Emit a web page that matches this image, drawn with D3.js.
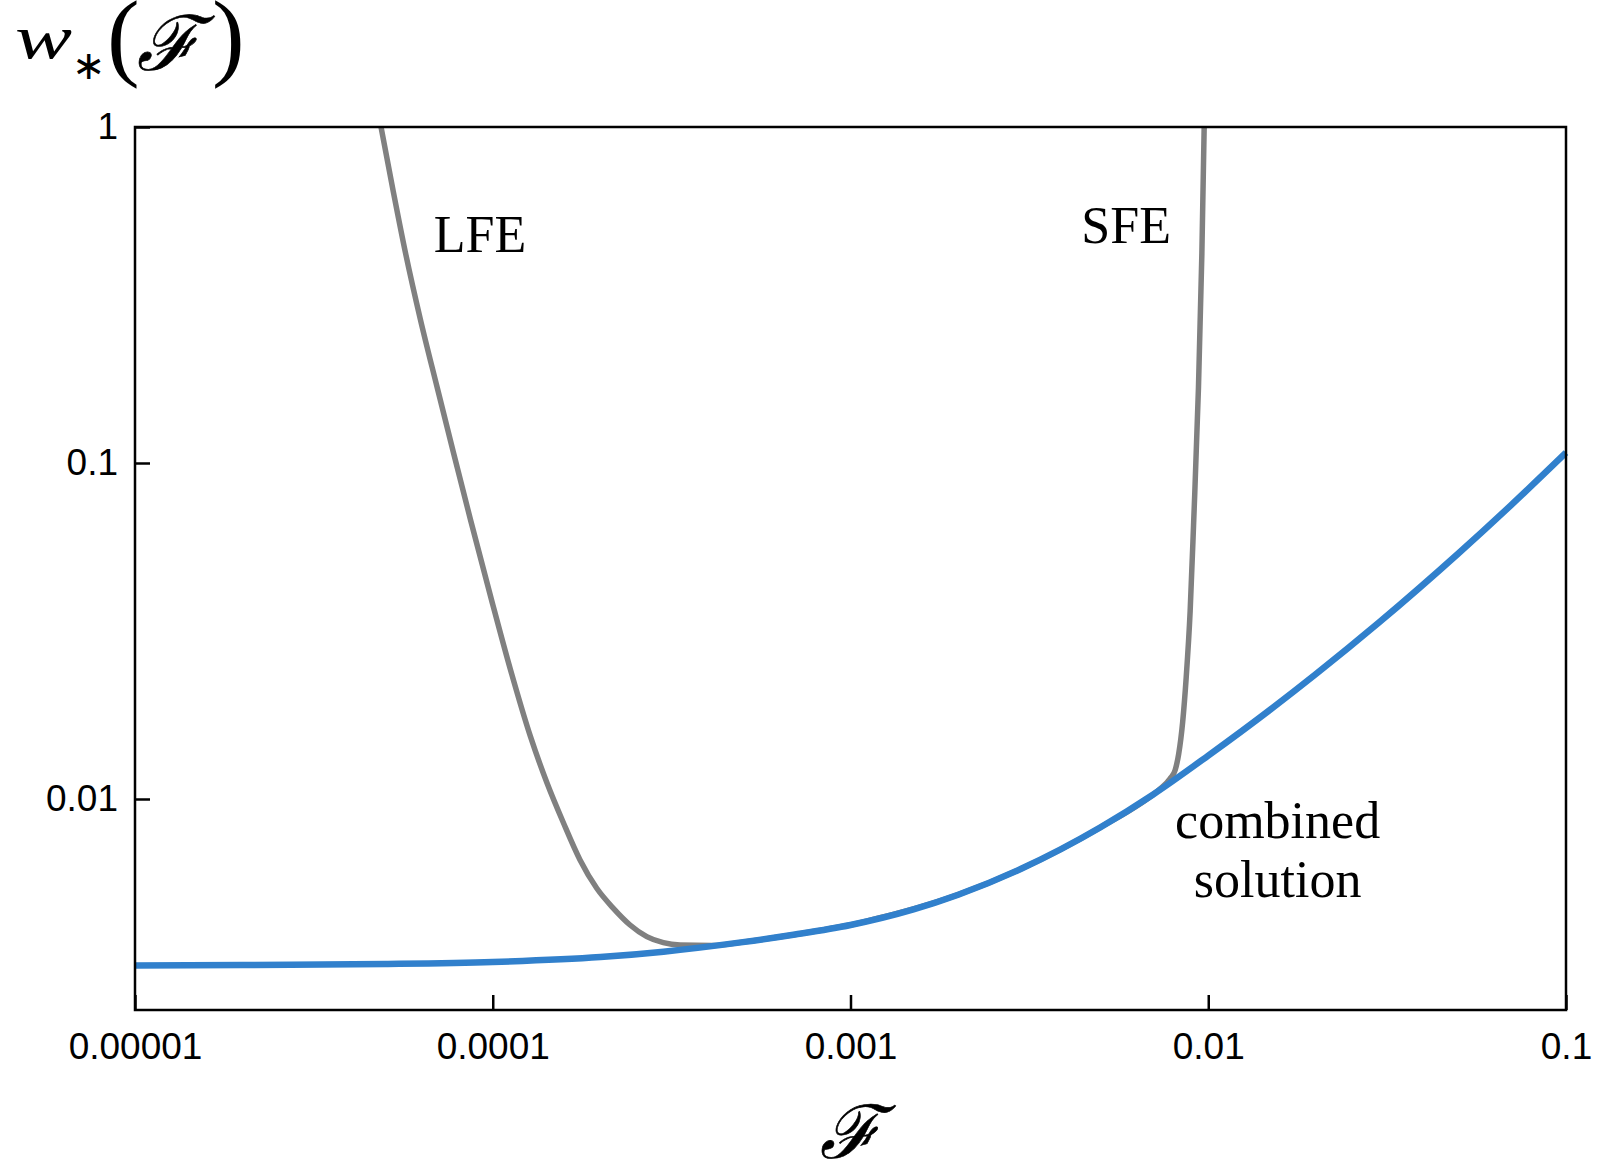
<!DOCTYPE html>
<html>
<head>
<meta charset="utf-8">
<script src="https://cdn.jsdelivr.net/npm/d3@7"></script>
<style>
  body { margin: 0; background: #fff; }
  #chart svg { display: block; }
</style>
</head>
<body>
<div id="chart"></div>
<script>
// data (log-log axes)
const combinedF = [1e-5, 2e-5, 5e-5, 1e-4, 2e-4, 3e-4, 5e-4, 7e-4, 1e-3, 1.5e-3, 2e-3,
                   3e-3, 5e-3, 7e-3, 1e-2, 1.5e-2, 2e-2, 3e-2, 5e-2, 7e-2, 0.1];
const combinedW = [0.003195, 0.003206, 0.003228, 0.003273, 0.003385, 0.003513, 0.003749,
                   0.003949, 0.004216, 0.004692, 0.005190, 0.006200, 0.008239, 0.010297,
                   0.013459, 0.018535, 0.023541, 0.033504, 0.05378, 0.07468, 0.10735];

const lfeF = [4.872e-5, 5.262e-5, 5.704e-5, 6.283e-5, 6.988e-5, 7.770e-5, 8.669e-5, 9.923e-5,
              1.1214e-4, 1.2757e-4, 1.4180e-4, 1.5768e-4, 1.7539e-4, 1.9530e-4, 2.174e-4,
              2.420e-4, 2.695e-4, 2.998e-4, 3.339e-4, 4.128e-4, 5e-4, 7e-4, 1e-3];
const lfeW = [1, 0.6494, 0.4217, 0.2664, 0.1683, 0.1071, 0.06768, 0.03912, 0.02421, 0.01530,
              0.01116, 0.008483, 0.006585, 0.005423, 0.004727, 0.004217, 0.003893, 0.003735,
              0.003676, 0.003664, 0.00375, 0.003949, 0.004216];

const sfeF = [0.001, 0.002, 0.003, 0.005, 0.007, 0.007338, 0.007826, 0.008083, 0.008267,
              0.008482, 0.008675, 0.008901, 0.009104, 0.009389, 0.009597, 0.009741];
const sfeW = [0.004216, 0.00519, 0.0062, 0.008239, 0.010297, 0.01072, 0.01150, 0.0122, 0.01361,
              0.01695, 0.02292, 0.03627, 0.06673, 0.1672, 0.4188, 1.0];

const xTickValues = [1e-5, 1e-4, 1e-3, 1e-2, 1e-1];
const xTickLabels = ["0.00001", "0.0001", "0.001", "0.01", "0.1"];
const yTickValues = [0.01, 0.1, 1];
const yTickLabels = ["0.01", "0.1", "1"];

// curve labels: text, F, w (baseline)
const curveLabels = [
  ["LFE", 9.21e-5, 0.4246],
  ["SFE", 5.895e-3, 0.4516],
  ["combined", 1.563e-2, 0.007655],
  ["solution", 1.563e-2, 0.005109]
];

// SVG
const W = 1600, H = 1166;
const margin = { top: 127, right: 34, bottom: 156, left: 135 },
      width = W - margin.left - margin.right,
      height = H - margin.top - margin.bottom;

const root = d3.select("#chart")
    .append("svg")
    .attr("width", W)
    .attr("height", H);

const svg = root.append("g")
    .attr("transform", `translate(${margin.left},${margin.top})`);

// scales
const x = d3.scaleLog()
    .domain([1e-5, 0.1])
    .range([0, width]);

const y = d3.scaleLog()
    .domain([0.002355, 1])
    .range([height, 0]);

svg.append("clipPath")
    .attr("id", "plotclip")
    .append("rect")
    .attr("x", 0).attr("y", 0)
    .attr("width", width + 5).attr("height", height);

// curves
const line = d3.line()
    .x(d => x(d[0]))
    .y(d => y(d[1]))
    .curve(d3.curveMonotoneX);

const zip = (a, b) => a.map((v, i) => [v, b[i]]);

const curves = svg.append("g").attr("clip-path", "url(#plotclip)");

[[lfeF, lfeW], [sfeF, sfeW]].forEach(([f, w]) => {
    curves.append("path")
        .datum(zip(f, w))
        .attr("fill", "none")
        .attr("stroke", "#808080")
        .attr("stroke-width", 5.5)
        .attr("d", line);
});

curves.append("path")
    .datum(zip(combinedF, combinedW))
    .attr("fill", "none")
    .attr("stroke", "#3180cc")
    .attr("stroke-width", 6.5)
    .attr("d", line);

// axes (ticks point inward)
const xAxis = svg.append("g")
    .attr("transform", `translate(0,${height})`)
    .call(d3.axisBottom(x)
        .tickValues(xTickValues)
        .tickFormat((d, i) => xTickLabels[i])
        .tickSizeInner(-15)
        .tickSizeOuter(0)
        .tickPadding(23));

const yAxis = svg.append("g")
    .call(d3.axisLeft(y)
        .tickValues(yTickValues)
        .tickFormat((d, i) => yTickLabels[i])
        .tickSizeInner(-15)
        .tickSizeOuter(0)
        .tickPadding(17));

[xAxis, yAxis].forEach(g => {
    g.select(".domain").remove();
    g.selectAll(".tick line").attr("stroke", "#000").attr("stroke-width", 2.5);
    g.selectAll(".tick text")
        .attr("fill", "#000")
        .attr("font-family", "'Liberation Sans', Arial, sans-serif")
        .attr("font-size", "37px");
});

// frame
svg.append("rect")
    .attr("width", width)
    .attr("height", height)
    .attr("fill", "none")
    .attr("stroke", "#000")
    .attr("stroke-width", 2.5);

// curve labels
svg.selectAll(".clabel")
    .data(curveLabels)
    .enter()
    .append("text")
    .attr("class", "clabel")
    .attr("x", d => x(d[1]))
    .attr("y", d => y(d[2]))
    .attr("text-anchor", "middle")
    .attr("font-family", "'Liberation Serif', 'Times New Roman', serif")
    .attr("font-size", "52px")
    .attr("fill", "#000")
    .text(d => d[0]);

// X LABEL
root.append("text")
    .attr("x", margin.left + width / 2)
    .attr("y", 1158)
    .attr("text-anchor", "middle")
    .attr("font-family", "'DejaVu Serif', serif")
    .attr("font-style", "italic")
    .attr("font-size", "74px")
    .attr("stroke", "#000")
    .attr("stroke-width", 0.6)
    .text("ℱ");

// Y LABEL  w*(F)
const ytitle = root.append("g").attr("fill", "#000");

ytitle.append("text")
    .attr("x", 15).attr("y", 58)
    .attr("font-family", "'Liberation Serif', serif")
    .attr("font-style", "italic")
    .attr("font-size", "62px")
    .attr("textLength", 57)
    .attr("lengthAdjust", "spacingAndGlyphs")
    .text("w");

ytitle.append("text")
    .attr("x", 72).attr("y", 79)
    .attr("font-family", "'DejaVu Sans', sans-serif")
    .attr("font-size", "40px")
    .text("∗");

ytitle.append("text")
    .attr("x", 107).attr("y", 68)
    .attr("font-family", "'Liberation Serif', serif")
    .attr("font-size", "98px")
    .text("(");

ytitle.append("text")
    .attr("x", 137).attr("y", 70)
    .attr("font-family", "'DejaVu Serif', serif")
    .attr("font-style", "italic")
    .attr("font-size", "76px")
    .attr("stroke", "#000")
    .attr("stroke-width", 0.6)
    .text("ℱ");

ytitle.append("text")
    .attr("x", 212).attr("y", 68)
    .attr("font-family", "'Liberation Serif', serif")
    .attr("font-size", "98px")
    .text(")");
</script>
</body>
</html>
